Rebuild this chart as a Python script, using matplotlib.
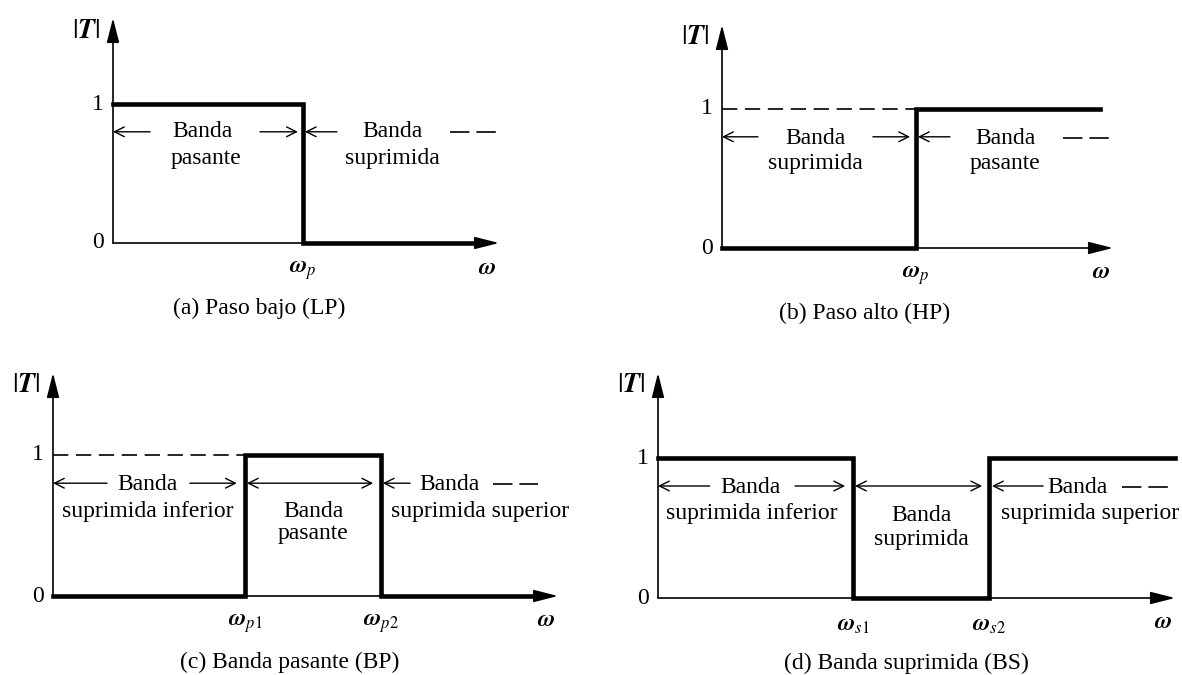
import matplotlib
matplotlib.use('Agg')
import matplotlib.pyplot as plt

plt.rcParams['font.family'] = ['Liberation Serif', 'DejaVu Serif']
plt.rcParams['mathtext.fontset'] = 'stix'
plt.rcParams['lines.scale_dashes'] = False

W, H = 1182, 675
FS = 17

# ideal |T| vs omega, omega scaled so that each axis runs from 0 to 1
lp_w = [0.0, 0.492, 0.95]
lp_t = [1, 0, 0]
hp_w = [0.0, 0.496, 0.967]
hp_t = [0, 1, 1]
bp_w = [0.0, 0.380, 0.650, 0.95]
bp_t = [0, 1, 0, 0]
bs_w = [0.0, 0.377, 0.640, 1.0]
bs_t = [1, 0, 1, 1]

lp_cut = [r'$\boldsymbol{\omega}_p$']
hp_cut = [r'$\boldsymbol{\omega}_p$']
bp_cut = [r'$\boldsymbol{\omega}_{p1}$', r'$\boldsymbol{\omega}_{p2}$']
bs_cut = [r'$\boldsymbol{\omega}_{s1}$', r'$\boldsymbol{\omega}_{s2}$']

captions = ['(a) Paso bajo (LP)', '(b) Paso alto (HP)',
            '(c) Banda pasante (BP)', '(d) Banda suprimida (BS)']

fig = plt.figure(figsize=(W / 100, H / 100), dpi=100)
fig.patch.set_facecolor('white')


def make_axes(x0, y0, y1, length, tip):
    # box given in pixels: y-axis at x0, |T|=0 at y0, |T|=1 at y1, arrow tip at tip
    ax = fig.add_axes([x0 / W, 1 - y0 / H, length / W, (y0 - tip) / H])
    ymax = (y0 - tip) / (y0 - y1)
    ax.set_xlim(0, 1)
    ax.set_ylim(0, ymax)
    ax.axis('off')
    head = dict(arrowstyle='-|>,head_length=1.5,head_width=0.38', lw=1.2,
                color='k', mutation_scale=10, shrinkA=0, shrinkB=0)
    ax.annotate('', xy=(1, 0), xytext=(0, 0), arrowprops=head, annotation_clip=False)
    ax.annotate('', xy=(0, ymax), xytext=(0, 0), arrowprops=head, annotation_clip=False)
    ax.annotate(r'$|\boldsymbol{T}|$', xy=(0, ymax), xytext=(-27, -13),
                textcoords='offset pixels', ha='center', va='center', fontsize=20)
    for val in (0, 1):
        ax.annotate(str(val), xy=(0, val), xytext=(-9, 0), textcoords='offset pixels',
                    ha='right', va='center', fontsize=FS)
    ax.annotate(r'$\boldsymbol{\omega}$', xy=(1, 0), xytext=(-12, -25),
                textcoords='offset pixels', ha='center', va='center', fontsize=FS)
    return ax


def response(ax, w, t, cuts):
    ax.plot(w, t, drawstyle='steps-post', lw=3.3, color='k', clip_on=False,
            solid_joinstyle='miter')
    for x, s in zip(w[1:len(cuts) + 1], cuts):
        ax.annotate(s, xy=(x, 0), xytext=(0, -28), textcoords='offset pixels',
                    ha='center', va='center', fontsize=FS)


def arrow(ax, x_from, x_to, y=0.8, both=False):
    style = ('<->' if both else '->') + ',head_length=0.5,head_width=0.25'
    ax.annotate('', xy=(x_to, y), xytext=(x_from, y), annotation_clip=False,
                arrowprops=dict(arrowstyle=style, lw=1.0, color='k',
                                shrinkA=0, shrinkB=0, mutation_scale=14))


def dashed(ax, x0, x1, y, dash=(14, 5)):
    ax.plot([x0, x1], [y, y], color='k', lw=1.2, ls=(0, dash), clip_on=False)


def words(ax, x, y, s):
    ax.text(x, y, s, ha='center', va='center', fontsize=FS)


# (a) low pass
ax = make_axes(113, 243, 104, 386, 18)
response(ax, lp_w, lp_t, lp_cut)
arrow(ax, 0.096, 0.0)
arrow(ax, 0.381, 0.479)
arrow(ax, 0.580, 0.497)
words(ax, 0.233, 0.80, 'Banda')
words(ax, 0.240, 0.61, 'pasante')
words(ax, 0.723, 0.80, 'Banda')
words(ax, 0.723, 0.61, 'suprimida')
dashed(ax, 0.873, 0.997, 0.80)

# (b) high pass
ax = make_axes(722, 248, 109, 391, 25)
response(ax, hp_w, hp_t, hp_cut)
dashed(ax, 0.0, hp_w[1], 1.0, dash=(11, 5.5))
arrow(ax, 0.092, 0.0)
arrow(ax, 0.386, 0.481)
arrow(ax, 0.583, 0.501)
words(ax, 0.238, 0.79, 'Banda')
words(ax, 0.238, 0.61, 'suprimida')
words(ax, 0.724, 0.79, 'Banda')
words(ax, 0.724, 0.61, 'pasante')
dashed(ax, 0.872, 1.0, 0.79)

# (c) band pass
ax = make_axes(53, 596, 455, 505, 373)
response(ax, bp_w, bp_t, bp_cut)
dashed(ax, 0.0, bp_w[1], 1.0, dash=(11, 5.5))
arrow(ax, 0.107, 0.0)
arrow(ax, 0.271, 0.364)
arrow(ax, 0.384, 0.634, both=True)
arrow(ax, 0.707, 0.653)
words(ax, 0.188, 0.794, 'Banda')
words(ax, 0.188, 0.60, 'suprimida inferior')
words(ax, 0.515, 0.60, 'Banda')
words(ax, 0.515, 0.445, 'pasante')
words(ax, 0.786, 0.794, 'Banda')
words(ax, 0.846, 0.60, 'suprimida superior')
dashed(ax, 0.871, 0.960, 0.794)

# (d) band stop
ax = make_axes(658, 598, 458, 517, 373)
response(ax, bs_w, bs_t, bs_cut)
arrow(ax, 0.10, 0.0)
arrow(ax, 0.265, 0.362)
arrow(ax, 0.381, 0.627, both=True)
arrow(ax, 0.745, 0.646)
words(ax, 0.178, 0.79, 'Banda')
words(ax, 0.182, 0.60, 'suprimida inferior')
words(ax, 0.509, 0.59, 'Banda')
words(ax, 0.509, 0.42, 'suprimida')
words(ax, 0.812, 0.79, 'Banda')
words(ax, 0.836, 0.60, 'suprimida superior')
dashed(ax, 0.897, 0.986, 0.79)

# captions under each panel
for (cx, cy), s in zip([(259, 308), (865, 313), (290, 662), (906, 663)], captions):
    fig.text(cx / W, 1 - cy / H, s, ha='center', va='center', fontsize=FS)

fig.savefig('out.png', dpi=100, facecolor='white')
